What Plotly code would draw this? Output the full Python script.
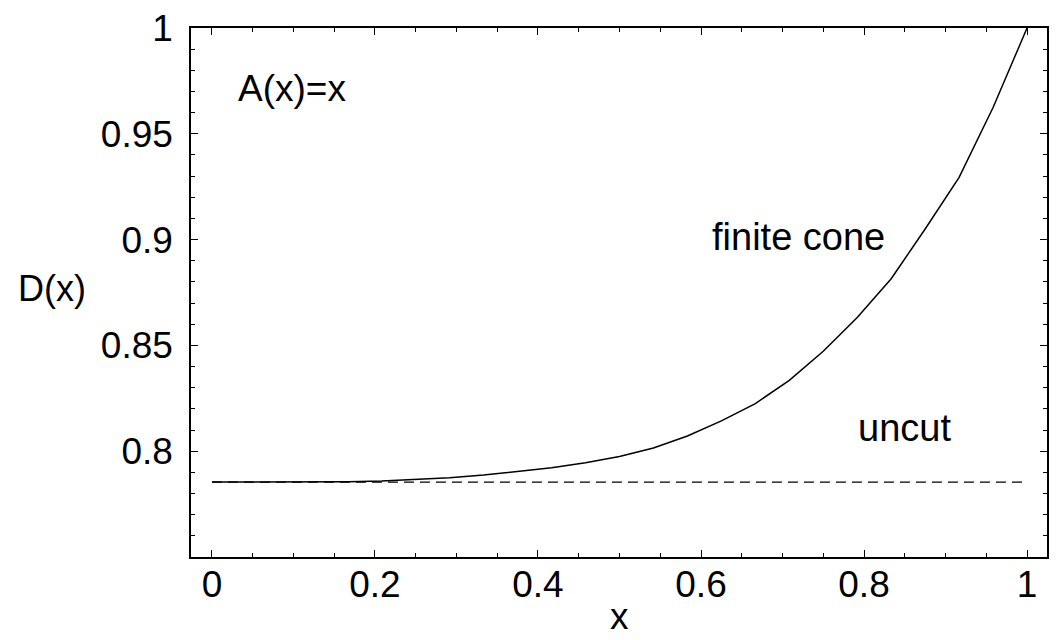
import plotly.graph_objects as go

x_vals = [k / 24 for k in range(25)]
finite_cone = [0.7854, 0.7854, 0.7854, 0.7855, 0.7856, 0.7859, 0.7865, 0.7874,
               0.7887, 0.7903, 0.7922, 0.7945, 0.7975, 0.8015, 0.8072, 0.8143,
               0.8225, 0.8335, 0.8472, 0.8632, 0.8815, 0.9050, 0.9294, 0.9624,
               1.0000]
uncut_x = [0.0, 1.0]
uncut_y = [0.7854, 0.7854]

y_ticks = [0.8, 0.85, 0.9, 0.95, 1.0]
y_ticktext = ["0.8", "0.85", "0.9", "0.95", "1"]
x_ticks = [0, 0.2, 0.4, 0.6, 0.8, 1.0]
x_ticktext = ["0", "0.2", "0.4", "0.6", "0.8", "1"]

FONT = "Liberation Sans, Arial, Helvetica, sans-serif"

fig = go.Figure()
fig.add_trace(go.Scatter(x=uncut_x, y=uncut_y, mode="lines",
                         line=dict(color="black", width=1.3, dash="10px,6px"),
                         showlegend=False, hoverinfo="skip"))
fig.add_trace(go.Scatter(x=x_vals, y=finite_cone, mode="lines",
                         line=dict(color="black", width=1.5),
                         showlegend=False))

axis_common = dict(showline=True, linecolor="black", linewidth=1.5, mirror="ticks",
                   ticks="inside", ticklen=7, tickwidth=1, tickcolor="black",
                   showgrid=False, zeroline=False,
                   tickfont=dict(family=FONT, size=37, color="black"))

fig.update_xaxes(range=[-0.0257, 1.0245], tickvals=x_ticks, ticktext=x_ticktext,
                 ticklabelstandoff=-6,
                 minor=dict(dtick=0.05, tick0=0, ticks="inside", ticklen=4,
                            tickcolor="black", showgrid=False),
                 **axis_common)
fig.update_yaxes(range=[0.75, 1.0], tickvals=y_ticks, ticktext=y_ticktext,
                 ticklabelstandoff=9,
                 minor=dict(dtick=0.01, tick0=0.75, ticks="inside", ticklen=4,
                            tickcolor="black", showgrid=False),
                 **axis_common)

def ann(x, y, text, size, xref="x", yref="y"):
    fig.add_annotation(x=x, y=y, xref=xref, yref=yref, text=text, showarrow=False,
                       xanchor="center", yanchor="middle",
                       font=dict(family=FONT, size=size, color="black"))

ann(0.0985, 0.9712, "A(x)=x", 37)
ann(0.7197, 0.901, "finite cone", 38)
ann(0.8495, 0.8108, "uncut", 38)
ann(0.4994, -0.112, "x", 37, yref="paper")
ann(-0.162, 0.5075, "D(x)", 36, xref="paper", yref="paper")

fig.update_layout(width=1057, height=640,
                  margin=dict(l=191, r=8, t=27, b=83),
                  plot_bgcolor="white", paper_bgcolor="white")

fig.write_html("out.html")
